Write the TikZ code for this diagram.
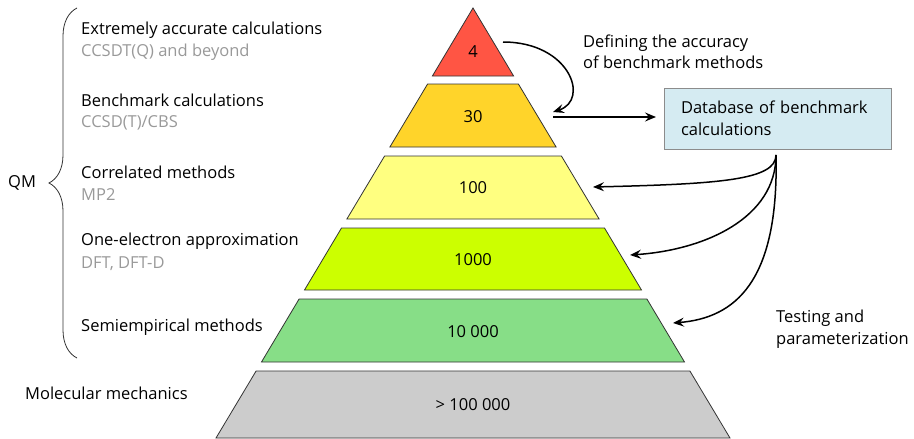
\documentclass[tikz,border=0pt]{standalone}
\usepackage{fontspec}
\setmainfont{Open Sans}
\usetikzlibrary{arrows.meta,decorations.pathreplacing}

\definecolor{layerred}{HTML}{FF5544}
\definecolor{layerorange}{HTML}{FFD42A}
\definecolor{layeryellow}{HTML}{FFFF80}
\definecolor{layerlime}{HTML}{CCFF00}
\definecolor{layergreen}{HTML}{87DE87}
\definecolor{layergray}{HTML}{CCCCCC}
\definecolor{dbfill}{HTML}{D5EBF2}
\definecolor{subgray}{HTML}{999999}

\begin{document}
\begin{tikzpicture}[x=1pt, y=-1pt,
		layer_style/.style={draw=black!80, line width=0.8pt},
		num_style/.style={font=\fontsize{16.5}{20}\selectfont},
		head_style/.style={anchor=west, inner sep=0pt, font=\fontsize{16.5}{20}\selectfont},
		sub_style/.style={head_style, text=subgray},
		db_style/.style={draw=black!45, fill=dbfill, line width=0.8pt, minimum height=61pt,
			text width=193pt, inner xsep=17pt, align=left, font=\fontsize{16.5}{22}\selectfont},
		edge_style/.style={draw=black, line width=1.5pt, -{Stealth[length=11pt, width=9pt, inset=4pt]}}]

		\useasboundingbox (0,0) rectangle (914,439);

		% pyramid layers, apex at (473,8)
		\draw[layer_style, fill=layerred]    (473,8) -- (513.6,76) -- (432.4,76) -- cycle;
		\draw[layer_style, fill=layerorange] (427.6,84) -- (518.4,84) -- (556.1,147) -- (389.9,147) -- cycle;
		\draw[layer_style, fill=layeryellow] (384.6,156) -- (561.4,156) -- (599.1,219) -- (346.9,219) -- cycle;
		\draw[layer_style, fill=layerlime]   (341.5,228) -- (604.5,228) -- (641.5,290) -- (304.5,290) -- cycle;
		\draw[layer_style, fill=layergreen]  (299.1,299) -- (646.9,299) -- (684.5,362) -- (261.5,362) -- cycle;
		\draw[layer_style, fill=layergray]   (256.1,371) -- (689.9,371) -- (730,438) -- (216,438) -- cycle;

		\node[num_style] (n0) at (473,52)  {4};
		\node[num_style] (n1) at (473,117) {30};
		\node[num_style] (n2) at (473,188) {100};
		\node[num_style] (n3) at (473,260) {1000};
		\node[num_style] (n4) at (473,332) {10~000};
		\node[num_style] (n5) at (473,405) {>~100~000};

		% method levels
		\node[head_style] (h0) at (81,30)  {Extremely accurate calculations};
		\node[sub_style]  (s0) at (81,52.5){CCSDT(Q) and beyond};
		\node[head_style] (h1) at (81,100) {Benchmark calculations};
		\node[sub_style]  (s1) at (81,123) {CCSD(T)/CBS};
		\node[head_style] (h2) at (81,172) {Correlated methods};
		\node[sub_style]  (s2) at (81,195) {MP2};
		\node[head_style] (h3) at (81,241) {One-electron approximation};
		\node[sub_style]  (s3) at (81,264) {DFT, DFT-D};
		\node[head_style] (h4) at (81,327) {Semiempirical methods};
		\node[head_style] (h5) at (25,393) {Molecular mechanics};

		\node[head_style] (qm) at (8,183) {QM};
		\draw[black!80, line width=0.8pt, decorate, decoration={brace, amplitude=28pt}]
			(77,358) -- (77,8);

		% benchmark database
		\node[db_style] (db) at (777.5,118.5) {Database of benchmark calculations};
		\node[head_style, align=left, font=\fontsize{16.5}{21.5}\selectfont] (def) at (583,52)
			{Defining the accuracy\\of benchmark methods};
		\node[head_style, align=left, font=\fontsize{16.5}{21.5}\selectfont] (test) at (776,329)
			{Testing and\\parameterization};

		\coordinate (c0) at (503,42);
		\coordinate (c1) at (553,112);
		\coordinate (c2) at (553,117);
		\coordinate (c3) at (656,117);
		\coordinate (c4) at (776,155);
		\coordinate (c5) at (593,187);
		\coordinate (c6) at (630,255);
		\coordinate (c7) at (673,323);

		\draw[edge_style] (c0) .. controls (570,42) and (590,100) .. (c1);
		\draw[edge_style] (c2) -- (c3);
		\draw[edge_style] (c4) .. controls (776,180) and (720,184) .. (c5);
		\draw[edge_style] (c4) .. controls (776,218) and (705,250) .. (c6);
		\draw[edge_style] (c4) .. controls (779,282) and (735,318) .. (c7);

\end{tikzpicture}
\end{document}
